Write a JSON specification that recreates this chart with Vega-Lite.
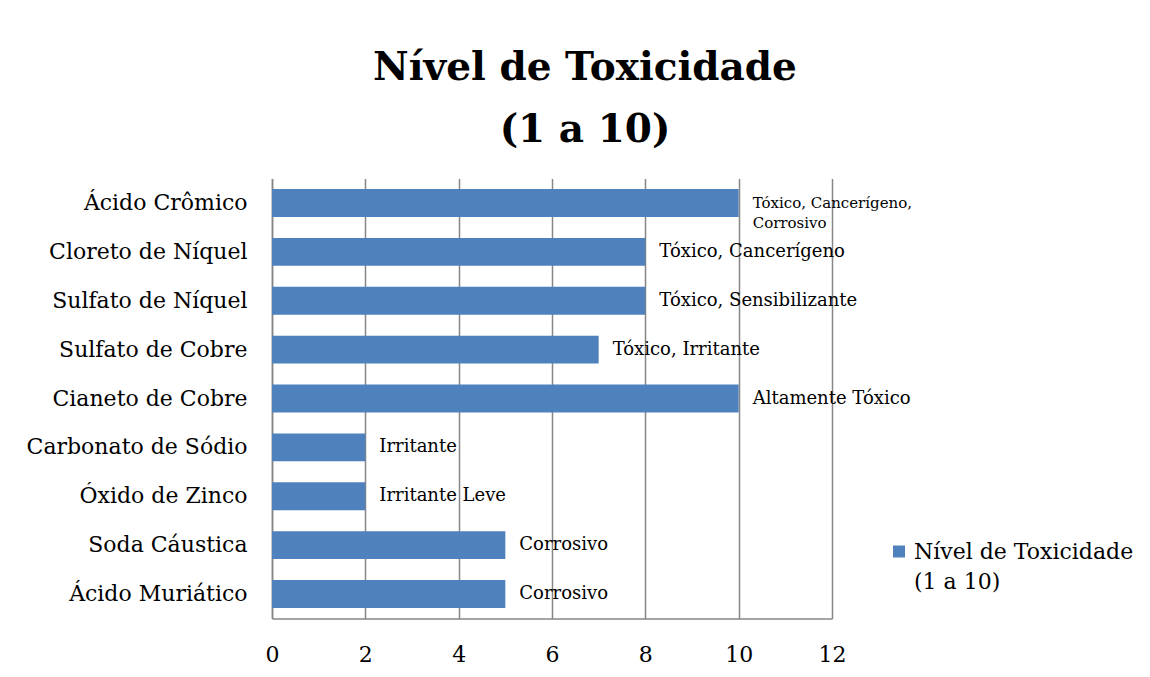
{
  "$schema": "https://vega.github.io/schema/vega-lite/v6.json",
  "width": 560,
  "height": 440,
  "autosize": {"type": "none"},
  "padding": {"left": 272, "top": 178.5, "right": 318, "bottom": 58.5},
  "background": "white",
  "title": {
    "text": ["Nível de Toxicidade", "(1 a 10)"],
    "font": "DejaVu Serif",
    "fontSize": 39,
    "fontWeight": "bold",
    "lineHeight": 62,
    "color": "black",
    "anchor": "middle",
    "frame": "group",
    "dx": 33,
    "offset": 29
  },
  "data": {
    "values": [
      {"substancia": "Ácido Crômico", "nivel": 10, "rotulo": "Tóxico, Cancerígeno,\nCorrosivo", "serie": "Nível de Toxicidade (1 a 10)"},
      {"substancia": "Cloreto de Níquel", "nivel": 8, "rotulo": "Tóxico, Cancerígeno", "serie": "Nível de Toxicidade (1 a 10)"},
      {"substancia": "Sulfato de Níquel", "nivel": 8, "rotulo": "Tóxico, Sensibilizante", "serie": "Nível de Toxicidade (1 a 10)"},
      {"substancia": "Sulfato de Cobre", "nivel": 7, "rotulo": "Tóxico, Irritante", "serie": "Nível de Toxicidade (1 a 10)"},
      {"substancia": "Cianeto de Cobre", "nivel": 10, "rotulo": "Altamente Tóxico", "serie": "Nível de Toxicidade (1 a 10)"},
      {"substancia": "Carbonato de Sódio", "nivel": 2, "rotulo": "Irritante", "serie": "Nível de Toxicidade (1 a 10)"},
      {"substancia": "Óxido de Zinco", "nivel": 2, "rotulo": "Irritante Leve", "serie": "Nível de Toxicidade (1 a 10)"},
      {"substancia": "Soda Cáustica", "nivel": 5, "rotulo": "Corrosivo", "serie": "Nível de Toxicidade (1 a 10)"},
      {"substancia": "Ácido Muriático", "nivel": 5, "rotulo": "Corrosivo", "serie": "Nível de Toxicidade (1 a 10)"}
    ]
  },
  "encoding": {
    "y": {
      "field": "substancia",
      "type": "nominal",
      "sort": null,
      "scale": {"paddingInner": 0.43, "paddingOuter": 0.215},
      "axis": {
        "title": null,
        "ticks": false,
        "labelPadding": 25,
        "labelFont": "DejaVu Serif",
        "labelFontSize": 22,
        "labelColor": "black",
        "labelLimit": 300,
        "domainColor": "#868686",
        "domainWidth": 1.5
      }
    },
    "x": {
      "field": "nivel",
      "type": "quantitative",
      "scale": {"domain": [0, 12], "nice": false},
      "axis": {
        "title": null,
        "values": [0, 2, 4, 6, 8, 10, 12],
        "ticks": false,
        "labelFlush": false,
        "labelPadding": 26,
        "labelFont": "DejaVu Serif",
        "labelFontSize": 22,
        "labelColor": "black",
        "grid": true,
        "gridColor": "#868686",
        "gridWidth": 1.5,
        "domainColor": "#868686",
        "domainWidth": 1.5
      }
    }
  },
  "layer": [
    {
      "mark": {"type": "bar"},
      "encoding": {
        "color": {
          "field": "serie",
          "type": "nominal",
          "scale": {"range": ["#4F81BD"]},
          "legend": {
            "title": null,
            "orient": "none",
            "legendX": 616,
            "legendY": 362,
            "padding": 0,
            "symbolType": "square",
            "symbolSize": 144,
            "symbolStrokeWidth": 0,
            "labelFont": "DejaVu Serif",
            "labelFontSize": 22,
            "labelColor": "black",
            "labelLimit": 400,
            "labelOffset": 4,
            "labelBaseline": "alphabetic",
            "labelExpr": "['Nível de Toxicidade', '(1 a 10)']",
            "encode": {
              "labels": {"update": {"dy": {"value": 7}, "lineHeight": {"value": 30}}}
            }
          }
        }
      }
    },
    {
      "mark": {
        "type": "text",
        "align": "left",
        "baseline": "middle",
        "dx": 14,
        "font": "DejaVu Serif",
        "color": "black",
        "lineBreak": "\n",
        "lineHeight": 20
      },
      "encoding": {
        "text": {"field": "rotulo"},
        "size": {
          "condition": {"test": "length(datum.rotulo) > 25", "value": 15},
          "value": 18
        }
      }
    }
  ],
  "config": {
    "view": {"stroke": null}
  }
}
